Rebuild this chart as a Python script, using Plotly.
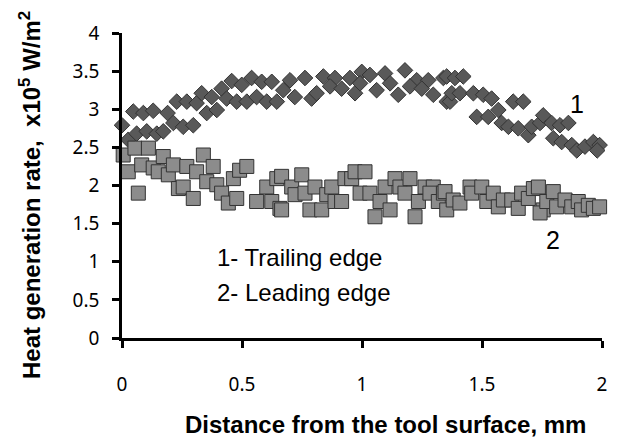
import plotly.graph_objects as go

# Series 1 - Trailing edge (diamonds)
trail_x = [0.047, 0.089, 0.130, 0.19, 0.228, 0.27, 0.311, 0.332, 0.374, 0.415, 0.457, 0.499, 0.54, 0.582, 0.624,
           0.0, 0.026, 0.061, 0.103, 0.145, 0.172, 0.214, 0.255, 0.297, 0.353, 0.395, 0.436, 0.478, 0.52, 0.561, 0.603, 0.645,
           0.70, 0.7625, 0.839, 0.8875, 0.95, 0.999, 1.033, 1.096, 1.179, 1.228, 1.276, 1.339,
           0.672, 0.72, 0.79, 0.811, 0.867, 0.915, 0.971, 0.992, 1.061, 1.117, 1.151, 1.2, 1.249, 1.297, 1.353,
           1.353, 1.3875, 1.422, 1.367, 1.374, 1.408, 1.464, 1.505, 1.54, 1.63, 1.672,
           1.478, 1.526, 1.568, 1.582, 1.61, 1.651, 1.693, 1.707, 1.742, 1.755, 1.79, 1.825, 1.86,
           1.797, 1.832, 1.874, 1.895, 1.929, 1.964, 1.99, 2.026, 1.98, 2.04]
trail_y = [2.97, 2.95, 2.98, 2.95, 3.10, 3.10, 3.08, 3.21, 3.16, 3.27, 3.37, 3.32, 3.41, 3.36, 3.36,
           2.79, 2.60, 2.68, 2.71, 2.68, 2.71, 2.82, 2.77, 2.79, 2.95, 2.99, 3.14, 3.10, 3.10, 3.16, 3.10, 3.10,
           3.38, 3.41, 3.43, 3.41, 3.41, 3.49, 3.45, 3.47, 3.51, 3.38, 3.38, 3.41,
           3.25, 3.16, 3.14, 3.21, 3.30, 3.27, 3.21, 3.34, 3.25, 3.34, 3.19, 3.30, 3.27, 3.19, 3.10,
           3.43, 3.41, 3.43, 3.10, 3.21, 3.21, 3.21, 3.19, 3.14, 3.10, 3.10,
           2.90, 2.90, 2.99, 2.82, 2.77, 2.75, 2.66, 2.77, 2.82, 2.92, 2.82, 2.79, 2.82,
           2.62, 2.57, 2.53, 2.46, 2.51, 2.57, 2.53, 2.72, 2.46, 2.43]

# Series 2 - Leading edge (squares)
lead_x = [0.005, 0.054, 0.11, 0.026, 0.082, 0.13, 0.172, 0.151, 0.193, 0.214, 0.27, 0.311, 0.339, 0.38,
          0.068, 0.235, 0.255, 0.297, 0.353, 0.395, 0.415, 0.443, 0.464, 0.49, 0.52, 0.478, 0.561, 0.603,
          0.624, 0.645, 0.658,
          0.665, 0.665, 0.707, 0.721, 0.749, 0.7625, 0.783, 0.804, 0.832, 0.853, 0.874, 0.8875, 0.915,
          0.929, 0.957, 0.971, 1.0125, 0.992, 1.033, 1.054, 1.075, 1.096, 1.117, 1.1375, 1.158, 1.179,
          1.2, 1.221, 1.235, 1.2625, 1.297, 1.283, 1.318, 1.339, 1.353,
          1.346, 1.38, 1.408, 1.45, 1.457, 1.499, 1.52, 1.547, 1.568, 1.589, 1.624, 1.651, 1.665,
          1.693, 1.714, 1.735, 1.755, 1.742, 1.77, 1.797, 1.811, 1.846, 1.874, 1.901, 1.915, 1.943,
          1.964, 1.99, 2.01, 2.03, 2.05]
lead_y = [2.40, 2.49, 2.49, 2.18, 2.27, 2.23, 2.38, 2.18, 2.14, 2.27, 2.25, 2.18, 2.40, 2.25,
          1.90, 1.96, 1.98, 1.83, 2.05, 2.01, 1.90, 1.77, 2.09, 2.20, 2.25, 1.83, 1.79, 1.98,
          1.79, 2.09, 1.70,
          2.12, 1.68, 1.98, 1.88, 2.14, 1.90, 1.68, 1.98, 1.68, 1.88, 1.98, 1.79, 1.79,
          2.09, 2.09, 2.18, 2.18, 1.90, 1.90, 1.59, 1.79, 1.98, 1.68, 2.09, 1.98, 1.90,
          2.09, 1.59, 1.79, 1.98, 1.98, 1.90, 1.79, 1.90, 1.68,
          1.92, 1.81, 1.77, 1.98, 1.90, 1.98, 1.79, 1.90, 1.72, 1.81, 1.81, 1.70, 1.90,
          1.83, 1.96, 1.98, 1.68, 1.64, 1.79, 1.92, 1.72, 1.81, 1.72, 1.79, 1.68, 1.74,
          1.70, 1.72, 1.68, 1.68, 1.68]

x_ticks = [0, 0.5, 1, 1.5, 2]
x_tick_text = ["0", "0.5", "1", "1.5", "2"]
y_ticks = [0, 0.5, 1, 1.5, 2, 2.5, 3, 3.5, 4]
y_tick_text = ["0", "0.5", "1", "1.5", "2", "2.5", "3", "3.5", "4"]

fig = go.Figure()
fig.add_trace(go.Scatter(
    x=trail_x, y=trail_y, mode="markers", name="1- Trailing edge",
    marker=dict(symbol="diamond", size=12, color="#595959", line=dict(color="#333333", width=1)),
    cliponaxis=False))
fig.add_trace(go.Scatter(
    x=lead_x, y=lead_y, mode="markers", name="2- Leading edge",
    marker=dict(symbol="square", size=14, color="#8c8c8c", line=dict(color="#333333", width=1)),
    cliponaxis=False))

axis_font = dict(family="Noto Sans", size=19, color="#000")
fig.update_xaxes(range=[0, 2], tickvals=x_ticks, ticktext=x_tick_text, showgrid=False, zeroline=False,
                 showline=True, linecolor="#000", linewidth=2.5, ticks="outside", ticklen=7,
                 tickwidth=2.5, tickcolor="#000", tickfont=axis_font, ticklabelstandoff=20)
fig.update_yaxes(range=[0, 4], tickvals=y_ticks, ticktext=y_tick_text, showgrid=False, zeroline=False,
                 showline=True, linecolor="#000", linewidth=2.5, ticks="outside", ticklen=7,
                 tickwidth=2.5, tickcolor="#000", tickfont=axis_font, ticklabelstandoff=9)

# page has an 8px body margin; target plot area on page: x 122..602, y 33..338
OFF = 8
W, H = 638 - OFF, 446 - OFF
L, T = 122 - OFF, 33 - OFF
R = W - (602 - OFF)
B = H - (338 - OFF)

def px(x):
    return (x - 122) / 480

def py(y):
    return (338 - y) / 305

title_font = dict(family="Liberation Sans, Arial", size=24, color="#000")
text_font = dict(family="Liberation Sans, Arial", size=24, color="#000")
num_font = dict(family="Liberation Sans, Arial", size=25, color="#000")
annotations = [
    dict(text="<b>Heat generation rate,  x10<sup>5</sup> W/m<sup>2</sup></b>", x=px(30), y=py(195),
         textangle=-90, font=title_font),
    dict(text="<b>Distance from the tool surface, mm</b>", x=px(385), y=py(424), font=title_font),
    dict(text="1", x=px(577), y=py(104), font=num_font),
    dict(text="2", x=px(553), y=py(240), font=num_font),
    dict(text="1- Trailing edge", x=px(215), y=py(258), xanchor="left", font=text_font),
    dict(text="2- Leading edge", x=px(215), y=py(292), xanchor="left", font=text_font),
]
for a in annotations:
    a.update(xref="paper", yref="paper", showarrow=False)
    a.setdefault("xanchor", "center")
    a.setdefault("yanchor", "middle")

fig.update_layout(width=W, height=H, margin=dict(l=L, r=R, t=T, b=B),
                  paper_bgcolor="white", plot_bgcolor="white", showlegend=False,
                  annotations=annotations)

fig.write_html("out.html")
